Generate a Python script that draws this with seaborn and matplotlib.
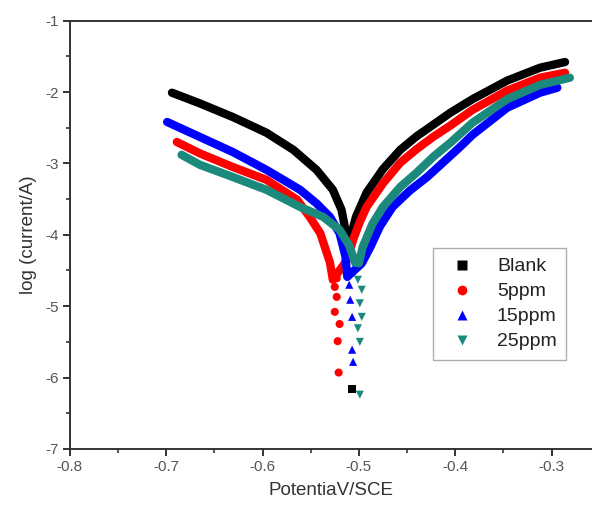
import numpy as np
import pandas as pd
import seaborn as sns
import matplotlib.pyplot as plt
from matplotlib.ticker import MultipleLocator

# dense part of each curve: cathodic branch down to the tip, then anodic branch
blank_x = [-0.694, -0.665, -0.631, -0.596, -0.568, -0.544, -0.527, -0.518, -0.514, -0.511,
           -0.509, -0.503, -0.492, -0.475, -0.457, -0.440, -0.423, -0.405, -0.382, -0.346,
           -0.312, -0.286]
blank_y = [-2.01, -2.16, -2.35, -2.57, -2.81, -3.09, -3.37, -3.65, -3.93, -4.15,
           -4.05, -3.75, -3.41, -3.08, -2.81, -2.62, -2.46, -2.29, -2.10, -1.84,
           -1.66, -1.58]

ppm5_x = [-0.689, -0.665, -0.631, -0.596, -0.564, -0.551, -0.540, -0.530, -0.527, -0.512,
          -0.506, -0.499, -0.492, -0.475, -0.457, -0.440, -0.423, -0.405, -0.382, -0.346,
          -0.312, -0.286]
ppm5_y = [-2.70, -2.86, -3.05, -3.23, -3.51, -3.75, -3.98, -4.39, -4.63, -4.35,
          -4.07, -3.82, -3.61, -3.28, -2.99, -2.80, -2.63, -2.47, -2.25, -1.98,
          -1.80, -1.73]

ppm15_x = [-0.699, -0.665, -0.631, -0.596, -0.561, -0.544, -0.530, -0.520, -0.514, -0.512,
           -0.497, -0.488, -0.478, -0.465, -0.447, -0.429, -0.412, -0.395, -0.382, -0.346,
           -0.312, -0.294]
ppm15_y = [-2.42, -2.63, -2.84, -3.09, -3.37, -3.56, -3.75, -3.98, -4.30, -4.59,
           -4.40, -4.17, -3.88, -3.61, -3.38, -3.19, -2.98, -2.77, -2.60, -2.22,
           -2.01, -1.94]

ppm25_x = [-0.684, -0.665, -0.631, -0.596, -0.561, -0.537, -0.520, -0.510, -0.504,
           -0.500, -0.496, -0.486, -0.475, -0.457, -0.440, -0.423, -0.405, -0.382, -0.346,
           -0.312, -0.281]
ppm25_y = [-2.88, -3.02, -3.19, -3.37, -3.61, -3.75, -3.93, -4.15, -4.39,
           -4.40, -4.17, -3.85, -3.61, -3.33, -3.13, -2.91, -2.71, -2.43, -2.10,
           -1.90, -1.80]

# sparse points near the corrosion potential
blank_tail_x = [-0.507]
blank_tail_y = [-6.16]
ppm5_tail_x = [-0.523, -0.525, -0.523, -0.525, -0.520, -0.522, -0.521]
ppm5_tail_y = [-4.61, -4.73, -4.87, -5.08, -5.25, -5.49, -5.93]
ppm15_tail_x = [-0.510, -0.509, -0.507, -0.507, -0.506]
ppm15_tail_y = [-4.70, -4.91, -5.15, -5.61, -5.78]
ppm25_tail_x = [-0.501, -0.497, -0.499, -0.497, -0.501, -0.499, -0.499]
ppm25_tail_y = [-4.63, -4.77, -4.96, -5.15, -5.31, -5.50, -6.24]

names = ['Blank', '5ppm', '15ppm', '25ppm']
colors = {'Blank': 'black', '5ppm': '#ff0000', '15ppm': '#0000ff', '25ppm': '#1b8a7c'}
markers = {'Blank': 's', '5ppm': 'o', '15ppm': '^', '25ppm': 'v'}

band = pd.concat([
    pd.DataFrame({'E': blank_x, 'logI': blank_y, 'sample': 'Blank'}),
    pd.DataFrame({'E': ppm5_x, 'logI': ppm5_y, 'sample': '5ppm'}),
    pd.DataFrame({'E': ppm15_x, 'logI': ppm15_y, 'sample': '15ppm'}),
    pd.DataFrame({'E': ppm25_x, 'logI': ppm25_y, 'sample': '25ppm'}),
], ignore_index=True)
tail = pd.concat([
    pd.DataFrame({'E': blank_tail_x, 'logI': blank_tail_y, 'sample': 'Blank'}),
    pd.DataFrame({'E': ppm5_tail_x, 'logI': ppm5_tail_y, 'sample': '5ppm'}),
    pd.DataFrame({'E': ppm15_tail_x, 'logI': ppm15_tail_y, 'sample': '15ppm'}),
    pd.DataFrame({'E': ppm25_tail_x, 'logI': ppm25_tail_y, 'sample': '25ppm'}),
], ignore_index=True)

sns.set_style('ticks')
plt.rcParams['font.family'] = ['Liberation Sans', 'DejaVu Sans']

fig = plt.figure(figsize=(5.92, 5.09), dpi=100)
ax = fig.add_axes([0.118, 0.118, 0.882, 0.8415])

sns.lineplot(data=band, x='E', y='logI', hue='sample', hue_order=names, palette=colors,
             sort=False, estimator=None, linewidth=6, legend=False, ax=ax)
sns.scatterplot(data=tail, x='E', y='logI', hue='sample', style='sample', hue_order=names,
                style_order=names, palette=colors, markers=markers, s=34,
                edgecolor='none', ax=ax)

ax.set_xlim(-0.8, -0.258)
ax.set_ylim(-7, -1)
ax.xaxis.set_minor_locator(MultipleLocator(0.05))
ax.yaxis.set_minor_locator(MultipleLocator(0.5))
ax.set_xticks([-0.8, -0.7, -0.6, -0.5, -0.4, -0.3])
ax.set_xticklabels(['-0.8', '-0.7', '-0.6', '-0.5', '-0.4', '-0.3'])
ax.set_yticks([-7, -6, -5, -4, -3, -2, -1])
ax.set_yticklabels(['-7', '-6', '-5', '-4', '-3', '-2', '-1'])
ax.tick_params(which='major', direction='out', length=5, width=1.4, labelsize=11,
               colors='#333333', labelcolor='#555555', pad=3)
ax.tick_params(which='minor', direction='out', length=3, width=1.2, colors='#333333')
for s in ['left', 'bottom', 'top']:
    ax.spines[s].set_linewidth(1.4)
    ax.spines[s].set_color('#333333')
ax.spines['right'].set_visible(False)

ax.set_xlabel('PotentiaV/SCE', fontsize=13.5, color='#333333', labelpad=6)
ax.set_ylabel('log (current/A)', fontsize=13.5, color='#333333', labelpad=6)

leg = ax.legend(loc='upper left', bbox_to_anchor=(0.695, 0.469), frameon=True,
                fancybox=False, edgecolor='#999999', fontsize=14, markerscale=1.2,
                handlelength=2.0, handletextpad=0.8, labelspacing=0.38,
                borderpad=0.5, borderaxespad=0, title=None)
leg.get_frame().set_linewidth(1.0)
for t in leg.get_texts():
    t.set_color('#222222')

fig.savefig('out.png', dpi=100)
